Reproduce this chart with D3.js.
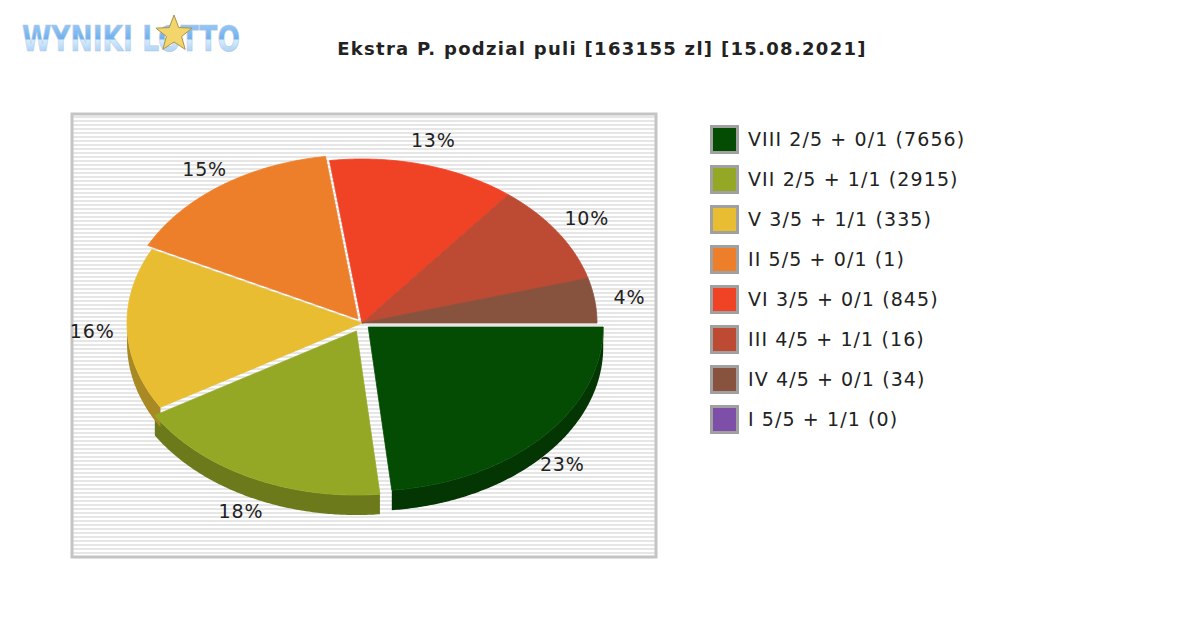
<!DOCTYPE html>
<html><head><meta charset="utf-8">
<script src="https://cdn.jsdelivr.net/npm/d3@7/dist/d3.min.js"></script>
<style>body{margin:0;background:#fff}svg{display:block}</style>
</head><body>
<script>
const title = "Ekstra P. podzial puli [163155 zl] [15.08.2021]";
const categories = ["VIII 2/5 + 0/1 (7656)","VII 2/5 + 1/1 (2915)","V 3/5 + 1/1 (335)","II 5/5 + 0/1 (1)","VI 3/5 + 0/1 (845)","III 4/5 + 1/1 (16)","IV 4/5 + 0/1 (34)","I 5/5 + 1/1 (0)"];
const shares = [23.4, 18.0, 16.0, 15.4, 12.9, 9.9, 4.4, 0];
const labels = ["23%","18%","16%","15%","13%","10%","4%",""];
const colors = ["#044b04","#95a825","#e8bd32","#ee7f2a","#f04325","#bd4a33","#87523e","#7d4fa8"];
const explode = [6, 9, 0, 5, 0, 0, 0, 0];

const W=1200,H=630;
const svg=d3.select("body").append("svg").attr("width",W).attr("height",H);
const defs=svg.append("defs");
const pat=defs.append("pattern").attr("id","stripes").attr("width",4).attr("height",4).attr("patternUnits","userSpaceOnUse");
pat.append("rect").attr("width",4).attr("height",4).attr("fill","#fff");
pat.append("rect").attr("width",4).attr("height",2).attr("fill","#e6e6e6");
const lg=defs.append("linearGradient").attr("id","logo").attr("x1",0).attr("y1",0).attr("x2",0).attr("y2",1);
lg.append("stop").attr("offset","0").attr("stop-color","#a9d3fa");
lg.append("stop").attr("offset","0.5").attr("stop-color","#6fb0ef");
lg.append("stop").attr("offset","0.55").attr("stop-color","#d6ecff");
lg.append("stop").attr("offset","1").attr("stop-color","#8cc2f4");

// logo
svg.append("text").attr("x",22).attr("y",51).attr("font-family","DejaVu Sans Condensed, DejaVu Sans").attr("font-weight","bold")
  .attr("font-size",36).attr("textLength",218).attr("lengthAdjust","spacingAndGlyphs")
  .attr("fill","url(#logo)").attr("stroke","#b9c9d9").attr("stroke-width",0.6).text("WYNIKI LOTTO");
const star=d3.range(10).map(i=>{const r=i%2?8:19,a=-Math.PI/2+i*Math.PI/5;return [174+r*Math.cos(a),34+r*Math.sin(a)];});
svg.append("path").attr("d",d3.line()(star)+"Z").attr("fill","#f3d66b").attr("stroke","#a89150").attr("stroke-width",1);

// title
svg.append("text").attr("x",602).attr("y",55).attr("text-anchor","middle").attr("font-family","DejaVu Sans").attr("font-weight","bold").attr("font-size",18).attr("letter-spacing",1.3).attr("fill","#222").text(title);

// plot box
svg.append("rect").attr("x",72).attr("y",114).attr("width",584).attr("height",443).attr("fill","url(#stripes)").attr("stroke","#c4c4c4").attr("stroke-width",3);

const cx=362, cy=323, rx=235, ry=164, depth=20;
const total=d3.sum(shares);
const ang=d3.scaleLinear().domain([0,total]).range([0,2*Math.PI]);
let cum=0;
const slices=shares.map((v,i)=>{const a0=ang(cum);cum+=v;const a1=ang(cum);const m=(a0+a1)/2;
  return {i,v,a0,a1,m,dx:explode[i]*Math.cos(m)*1.4,dy:explode[i]*Math.sin(m)};});
const pt=(a,ox,oy,dz)=>[cx+ox+rx*Math.cos(a),cy+oy+ry*Math.sin(a)+(dz||0)];
const arcPts=(s,e,ox,oy,dz)=>{const n=Math.max(2,Math.ceil((e-s)/0.01));return d3.range(n+1).map(k=>pt(s+(e-s)*k/n,ox,oy,dz));};
const g=svg.append("g");
slices.filter(s=>s.v>0).forEach(s=>{
  const a=Math.max(s.a0,0), b=Math.min(s.a1,Math.PI);
  if(a>=b) return;
  const top=arcPts(a,b,s.dx,s.dy,0), bot=arcPts(a,b,s.dx,s.dy,depth).reverse();
  g.append("path").attr("d",d3.line()(top.concat(bot))+"Z").attr("fill",d3.color(colors[s.i]).darker(0.9));
});
slices.filter(s=>s.v>0).forEach(s=>{
  const p=[[cx+s.dx,cy+s.dy]].concat(arcPts(s.a0,s.a1,s.dx,s.dy,0));
  g.append("path").attr("d",d3.line()(p)+"Z").attr("fill",colors[s.i]).attr("stroke",colors[s.i]).attr("stroke-width",0.8);
});
slices.filter(s=>s.v>0).forEach(s=>{
  const x=cx+270*Math.cos(s.m), y=cy+190*Math.sin(s.m)+(Math.sin(s.m)>0?depth*Math.sin(s.m):0);
  svg.append("text").attr("x",x).attr("y",y+7).attr("text-anchor","middle").attr("font-family","DejaVu Sans").attr("font-size",19).attr("letter-spacing",0.8).attr("fill","#222").text(labels[s.i]);
});

// legend
const ly=d3.scaleBand().domain(categories).range([119,439]);
const leg=svg.append("g").selectAll("g").data(categories).join("g").attr("transform",d=>`translate(710,${ly(d)+6})`);
leg.append("rect").attr("x",1.5).attr("y",1.5).attr("width",26).attr("height",26).attr("fill",(d,i)=>colors[i]).attr("stroke","#a0a0a0").attr("stroke-width",3);
leg.append("text").attr("x",38).attr("y",21).attr("font-family","DejaVu Sans").attr("font-size",19).attr("letter-spacing",1.1).attr("fill","#222").text(d=>d);
</script>
</body></html>
